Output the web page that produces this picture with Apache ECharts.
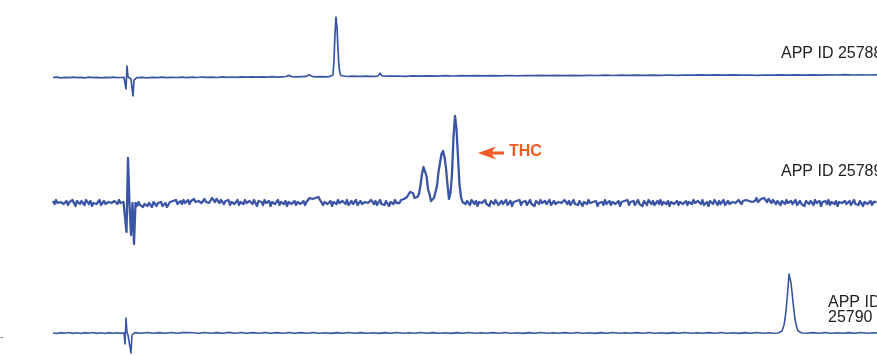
<!DOCTYPE html>
<html>
<head>
<meta charset="utf-8">
<script src="https://cdn.jsdelivr.net/npm/echarts@6/dist/echarts.min.js"></script>
<style>html,body{margin:0;padding:0;background:#fff;}#c{width:877px;height:356px;}</style>
</head>
<body>
<div id="c"></div>
<script>
// Sample labels
const sampleLabels = ['APP ID 25788', 'APP ID 25789', 'APP ID\n25790'];
const peakLabel = 'THC';

// Trace 1 (APP ID 25788): [time, signal]
const trace1 = [
[0,-1.5],[4,-1.2],[8,-1.8],[12,-1.3],[16,-1.6],[20,-1.1],[24,-1.7],[28,-1.4],[32,-1.9],[36,-1.2],[40,-1.6],[44,-1.3],[48,-1.8],[52,-1.4],[56,-1.6],[60,-1.2],[64,-1.7],[68,-1.5],[71,-1.4],[72,-1.8],
[73,-13],[74,10],[75,-1],[76,-3],[77,-2],[78,-3],[79,-12],[80,-20],[81,-4],[82,-2],[84,-1.6],
[89,-1.4],[94,-1.8],[99,-1.3],[104,-1.6],[109,-1.2],[114,-1.7],[119,-1.3],[124,-1.5],[129,-1.1],[134,-1.6],[139,-1.2],[144,-1.5],[149,-1.0],[154,-1.4],[159,-1.1],[164,-1.5],[169,-0.9],[174,-1.3],[179,-1.0],[184,-1.4],[189,-0.9],[194,-1.2],[199,-0.8],[204,-1.2],[209,-0.8],[214,-1.1],[219,-0.7],[224,-1.1],[229,-0.8],[233,-0.5],[236,0.6],[239,-0.6],[244,-0.9],[249,-0.6],[253,-0.4],[256,1.2],[259,-0.3],[263,-0.9],[268,-0.6],[272,-0.9],[276,-0.7],[278,-0.8],
[280,1],[281,16],[282,43],[283,59],[284,49],[285,26],[286,9],[287,3],[288,0.5],[290,-0.2],[294,-0.5],[299,-0.2],[304,-0.4],[309,-0.3],[313,-0.2],[318,-0.4],[322,-0.3],[325,0],[327,2.8],[329,0.2],[331,-0.4],[336,-0.2],
[344,0],[352,-0.3],[360,0.1],[368,-0.2],[376,0.2],[384,-0.1],[392,0.3],[400,0],[408,0.3],[416,0.1],[424,0.4],[432,0.1],[440,0.4],[448,0.2],[456,0.5],[464,0.2],[472,0.5],[480,0.3],[488,0.6],[496,0.3],[504,0.6],[512,0.4],[520,0.7],[528,0.4],[536,0.7],[544,0.5],[552,0.8],[560,0.5],[568,0.8],[576,0.6],[584,0.9],[592,0.6],[600,0.9],[608,0.7],[616,1.0],[624,0.7],[632,1.0],[640,0.8],[648,1.1],[656,0.8],[664,1.2],[672,0.9],[680,1.1],[688,0.8],[696,1.0],[704,0.7],[712,1.0],[720,0.8],[728,1.1],[736,0.9],[744,1.2],[752,0.9],[760,1.1],[768,0.9],[776,1.2],[784,1.0],[792,1.3],[800,1.0],[808,1.2],[816,1.0],[824,1.1]
];

// Trace 2 (APP ID 25789): signal sampled every trace2Step time units from 0
const trace2Step = 1.5;
const trace2 = [
2,-1,3,0,-2,1,3,-1,0,2,
-2,1,-1,3,0,-3,2,1,-1,2,
0,-2,3,1,-1,2,-3,0,2,-1,
1,3,-2,0,2,-1,-3,1,3,0,
-2,2,1,-1,3,0,-2,1,
1,-29,45,-2,-32,0,-41,0,
-3,1,-2,0,
-4,-1,1,-3,0,-2,-4,1,-1,-3,
0,-2,1,-3,-1,0,-4,-2,1,-1,
2,0,3,-1,1,2,-1,3,0,1,
3,-1,2,0,4,1,-1,2,3,0,
2,4,1,3,0,2,5,3,1,4,
2,0,3,1,-1,2,0,3,-2,1,
2,-1,0,3,-2,1,2,-1,3,0,
-2,2,1,-1,3,0,-3,2,0,1,
-2,3,0,-1,2,-3,1,2,-1,0,
3,-2,1,0,-1,2,-3,1,3,-1,
0,2,-2,1,3,-1,0,2,-2,1,
2,5,6,4,3,5,7,6,3,1,
-2,1,3,-1,0,2,-3,1,2,-1,
3,0,-2,2,1,-1,3,-2,0,2,
-1,1,3,-2,0,2,-1,-3,1,2,
0,-2,3,1,-1,2,-2,0,3,-1,
1,-2,2,0,-3,1,2,-1,3,0,
1,0,3,2,4,2,6,6,11,12,
10,5,3,6,9,18,29,36,34,27,
14,9,2,4,5,11,17,31,40,49,
52,46,35,18,4,10,29,66,87,74,
46,18,6,1,2,
-1,2,0,-2,3,1,-1,2,-3,1,
2,0,-2,3,-1,1,-3,2,0,-1,
3,1,-2,0,2,-1,1,3,-2,0,
2,-3,1,-1,2,0,3,-2,1,-1,
2,-2,0,3,-1,1,-3,2,1,-1,
3,0,-2,2,-1,1,3,-2,0,2,
-1,-3,1,2,0,-2,3,1,-1,2,
-2,0,3,-1,1,-2,2,0,-3,1,
2,-1,3,0,-2,1,-1,2,-3,0,
2,1,-2,3,-1,0,2,-2,1,3,
-1,0,2,-3,1,-1,2,0,3,-2,
1,-1,2,-2,0,3,-1,1,-3,2,
0,-2,3,1,-1,2,-2,0,2,-1,
3,-2,1,0,-1,2,-3,1,3,-1,
0,2,-2,1,3,-1,0,2,-2,1,
2,-1,3,0,-2,2,1,-1,3,-2,
0,1,-3,2,0,-1,3,1,-2,2,
-1,1,3,-2,0,2,-1,-3,1,2,
0,-2,3,1,-1,2,0,3,1,2,
4,1,3,2,5,1,3,4,2,5,
3,1,4,2,0,3,1,-1,2,0,
-2,2,1,-1,3,0,-2,2,-1,1,
3,-2,0,2,-1,1,-3,2,0,-1,
2,1,-2,3,0,-1,2,-3,1,0,
2,-1,3,-2,1,0,-1,2,-3,1,
3,0,-2,2,-1,1,2,-2,0,3,
-1,1,-2,2,0,-3,1,2,-1,0,
2,-2,1,0,1
];

// Trace 3 (APP ID 25790): [time, signal]
const trace3 = [
[0,0],[4,-0.5],[8,0.4],[12,-0.3],[16,0.5],[20,-0.4],[24,0.2],[28,-0.5],[32,0.4],[36,-0.2],[40,0.5],[44,-0.4],[48,0.3],[52,-0.5],[56,0.4],[60,-0.2],[64,0.3],[68,-0.4],[70,0],[71,0.3],
[72,-11],[73,15],[74,1],[75,-2],[76,0],[77,-3],[78,-20],[79,-2],[80,0],[82,0.4],
[88,-0.3],[94,0.5],[100,-0.2],[106,0.4],[112,-0.3],[118,0.5],[124,-0.2],[130,0.4],[135,0.5],[137,1.8],[140,0.2],[146,-0.3],[152,0.5],[158,-0.2],[164,0.4],[170,-0.3],[176,0.6],[182,-0.2],[188,0.5],[194,-0.3],[200,0.4],[206,-0.2],[212,0.5],[218,-0.3],[224,0.4],[230,-0.2],[236,0.5],[242,-0.3],[248,0.4],[254,-0.2],[260,0.5],[266,-0.3],[272,0.3],[278,-0.4],[284,0.4],[290,-0.2],[296,0.5],[302,-0.3],[308,0.4],[314,-0.2],[320,0.3],[326,-0.4],[332,0.4],[338,-0.2],[344,0.5],[350,-0.3],[356,0.3],[362,-0.2],[368,0.5],[374,-0.3],[380,0.4],[386,-0.2],[392,0.3],[398,-0.4],[404,0.4],[410,-0.2],[416,0.5],[422,-0.3],[428,0.3],[434,-0.2],[440,0.4],[446,-0.3],[452,0.5],[458,-0.2],[464,0.3],[470,-0.4],[476,0.4],[482,-0.2],[488,0.5],[494,-0.3],[500,0.3],[506,-0.2],[512,0.4],[518,-0.3],[524,0.5],[530,-0.2],[536,0.3],[542,-0.4],[548,0.4],[554,-0.2],[560,0.5],[566,-0.3],[572,0.3],[578,-0.2],[584,0.4],[590,-0.3],[596,0.5],[602,-0.2],[608,0.3],[614,-0.4],[620,0.4],[626,-0.2],[632,0.5],[638,-0.3],[644,0.3],[650,-0.2],[656,0.4],[662,-0.3],[668,0.5],[674,-0.2],[680,0.3],[686,-0.4],[692,0.4],[698,-0.2],[704,0.5],[710,-0.3],[716,0.3],[721,-0.2],[725,0],
[727,0.5],[729,2],[730,4],[731,8],[732,14],[733,22],[734,33],[735,45],[736,59],[737,57],[738,50],[739,41],[740,31],[741,22],[742,14],[743,9],[744,5],[745,2],[747,0.5],[749,0],
[754,-0.3],[760,0.4],[766,-0.2],[772,0.5],[778,-0.3],[784,0.3],[790,-0.2],[796,0.4],[802,-0.3],[808,0.5],[814,-0.2],[820,0.3],[824,0]
];

const lineColor = '#3a55a5';
const chart = echarts.init(document.getElementById('c'), null, {renderer: 'canvas'});

const grids = [
  {left: 53, right: 0, top: 0, height: 100},
  {left: 53, right: 0, top: 100, height: 150},
  {left: 53, right: 0, top: 250, height: 106}
];
const yRanges = [[-24, 76], [-47, 103], [-23, 83]];
const traces = [trace1, trace2.map((v, i) => [i * trace2Step, v]), trace3];
const lineWidths = [1.7, 2.3, 1.6];

const font16 = '16px "Liberation Sans", Arial, sans-serif';
const option = {
  animation: false,
  backgroundColor: '#ffffff',
  grid: grids,
  xAxis: grids.map((g, i) => ({type: 'value', gridIndex: i, min: 0, max: 824, show: false})),
  yAxis: grids.map((g, i) => ({type: 'value', gridIndex: i, min: yRanges[i][0], max: yRanges[i][1], show: false})),
  series: traces.map((d, i) => ({
    type: 'line', xAxisIndex: i, yAxisIndex: i, data: d,
    showSymbol: false, symbol: 'none', clip: false,
    lineStyle: {color: lineColor, width: lineWidths[i], join: 'round'}
  })),
  graphic: [
    {type: 'text', left: 781, top: 46, style: {text: sampleLabels[0], font: font16, fill: '#222'}},
    {type: 'text', left: 781, top: 164, style: {text: sampleLabels[1], font: font16, fill: '#222'}},
    {type: 'text', left: 828, top: 295, style: {text: sampleLabels[2], font: font16, fill: '#222', lineHeight: 15}},
    {type: 'text', left: 509, top: 144, style: {text: peakLabel, font: 'bold 16px "Liberation Sans", Arial, sans-serif', fill: '#f15a24'}},
    {type: 'polygon', shape: {points: [[478,153],[496,146.5],[492,151.5],[504,151.5],[504,154.5],[492,154.5],[496,159.5]]}, style: {fill: '#f15a24'}},
    {type: 'text', left: 0, top: 332, style: {text: '-', font: '10px "Liberation Sans", Arial, sans-serif', fill: '#666'}}
  ]
};
chart.setOption(option);
</script>
</body>
</html>
